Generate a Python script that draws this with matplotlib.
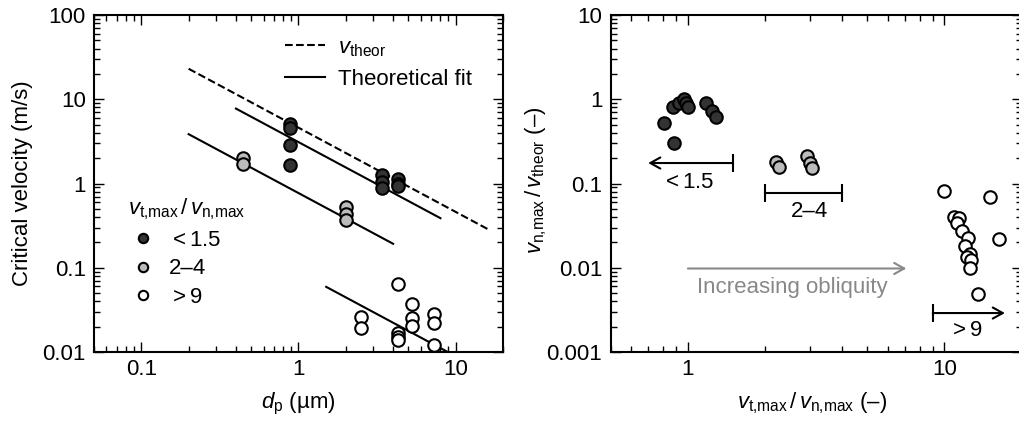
import numpy as np
import matplotlib
matplotlib.use('Agg')
import matplotlib.pyplot as plt
from matplotlib.ticker import FuncFormatter, NullFormatter, LogLocator

plt.rcParams['font.family'] = ['Liberation Sans', 'DejaVu Sans']
plt.rcParams['font.size'] = 16
plt.rcParams['mathtext.fontset'] = 'custom'
plt.rcParams['mathtext.rm'] = 'Liberation Sans'
plt.rcParams['mathtext.it'] = 'Liberation Sans:italic'
plt.rcParams['mathtext.bf'] = 'Liberation Sans:bold'

# left panel: critical velocity vs particle diameter ==================
dp_dark = [0.88, 0.88, 0.88, 0.88, 3.4, 3.4, 3.4, 4.27, 4.27, 4.27]
v_dark = [5.1, 4.5, 2.9, 1.65, 1.26, 1.05, 0.88, 1.12, 1.0, 0.93]
dp_gray = [0.445, 0.445, 2.0, 2.0, 2.0]
v_gray = [2.0, 1.7, 0.53, 0.43, 0.37]
dp_white = [2.5, 2.5, 4.27, 4.27, 4.27, 4.27, 5.28, 5.28, 5.28, 7.32, 7.32, 7.32]
v_white = [0.0262, 0.0191, 0.064, 0.0166, 0.0152, 0.0139,
           0.0368, 0.0251, 0.0204, 0.0282, 0.0219, 0.0121]

# v = c / dp lines (coefficient, dp range)
theor_coef, theor_range = 4.6, (0.2, 16)
fit_coefs = [3.1, 0.77, 0.089]
fit_ranges = [(0.4, 8.0), (0.2, 4.0), (1.5, 10.0)]

# right panel: normalised velocity vs obliquity ========================
ratio_dark = [0.805, 0.88, 0.873, 0.92, 0.964, 0.98, 1.0, 1.18, 1.246, 1.285]
norm_dark = [0.52, 0.30, 0.82, 0.91, 1.0, 0.895, 0.80, 0.91, 0.73, 0.61]
ratio_gray = [2.21, 2.26, 2.90, 2.99, 3.05]
norm_gray = [0.18, 0.155, 0.21, 0.174, 0.151]
ratio_white = [10.0, 15.1, 10.9, 11.35, 11.2, 11.7, 12.35, 12.0, 12.6,
               12.2, 12.7, 12.6, 16.3, 13.5]
norm_white = [0.0815, 0.0686, 0.0397, 0.0386, 0.0337, 0.0275, 0.0224,
              0.0181, 0.0146, 0.0135, 0.0124, 0.0100, 0.0219, 0.0049]

group_labels = [r'$<1.5$', '2–4', r'$>9$']
colors = ['#333333', '#bbbbbb', 'white']


def style_axis(ax):
    ax.set_xscale('log')
    ax.set_yscale('log')
    fmt = FuncFormatter(lambda v, p: '{:g}'.format(v))
    ax.xaxis.set_major_formatter(fmt)
    ax.yaxis.set_major_formatter(fmt)
    ax.xaxis.set_minor_formatter(NullFormatter())
    ax.yaxis.set_minor_formatter(NullFormatter())
    ax.yaxis.set_major_locator(LogLocator(base=10, numticks=20))
    ax.yaxis.set_minor_locator(LogLocator(base=10, subs=np.arange(2, 10), numticks=20))
    ax.tick_params(which='both', direction='in', top=True, right=True, width=1)
    ax.tick_params(which='major', length=7)
    ax.tick_params(which='minor', length=4.5)
    ax.tick_params(axis='x', which='major', pad=5)
    ax.tick_params(axis='y', which='major', pad=6)
    for s in ax.spines.values():
        s.set_linewidth(1.5)


fig = plt.figure(figsize=(10.2, 4.24), dpi=100)
ax1 = fig.add_axes([94 / 1020, 72 / 424, 409 / 1020, 337 / 424])
ax2 = fig.add_axes([610.7 / 1020, 72 / 424, 411 / 1020, 337 / 424])

mk = dict(marker='o', linestyle='none', markersize=9, markeredgecolor='black',
          markeredgewidth=1.5, zorder=3)

# ---- left
d = np.array(theor_range)
l_theor, = ax1.plot(d, theor_coef / d, 'k--', lw=1.5)
for c, (a, b) in zip(fit_coefs, fit_ranges):
    d = np.array([a, b])
    l_fit, = ax1.plot(d, c / d, 'k-', lw=1.5)

pts = []
for xs, ys, col in zip([dp_dark, dp_gray, dp_white], [v_dark, v_gray, v_white], colors):
    p, = ax1.plot(xs, ys, markerfacecolor=col, **mk)
    pts.append(p)

style_axis(ax1)
ax1.set_xlim(0.05, 20)
ax1.set_ylim(0.01, 100)
ax1.set_xlabel(r'$d_{\mathrm{p}}$ (µm)')
ax1.set_ylabel('Critical velocity (m/s)')
ax1.xaxis.set_label_coords(0.5, -0.115)
ax1.yaxis.set_label_coords(-0.15, 0.5)

leg1 = ax1.legend([l_theor, l_fit], [r'$v_{\mathrm{theor}}$', 'Theoretical fit'],
                  loc='upper left', bbox_to_anchor=(0.467, 0.935), frameon=False,
                  borderpad=0, borderaxespad=0, handlelength=1.8, handletextpad=0.6,
                  labelspacing=0.45)
ax1.add_artist(leg1)
leg2 = ax1.legend(pts, group_labels, loc='upper left', bbox_to_anchor=(0.083, 0.462),
                  frameon=False, borderpad=0, borderaxespad=0, handlelength=1.35,
                  handletextpad=0.5, labelspacing=0.35, markerscale=0.75,
                  title=r'$v_{\mathrm{t{,}max}}\,/\,v_{\mathrm{n{,}max}}$',
                  title_fontsize=16, alignment='left')

# ---- right
for xs, ys, col in zip([ratio_dark, ratio_gray, ratio_white],
                       [norm_dark, norm_gray, norm_white], colors):
    ax2.plot(xs, ys, markerfacecolor=col, **mk)

style_axis(ax2)
ax2.set_xlim(0.5, 20)
ax2.set_ylim(0.001, 10)
ax2.set_xlabel(r'$v_{\mathrm{t{,}max}}\,/\,v_{\mathrm{n{,}max}}$ (–)')
ax2.set_ylabel(r'$v_{\mathrm{n{,}max}}\,/\,v_{\mathrm{theor}}$ (–)')
ax2.xaxis.set_label_coords(0.49, -0.115)
ax2.yaxis.set_label_coords(-0.15, 0.51)

arr = dict(arrowstyle='->,head_length=0.45,head_width=0.25', lw=1.5, color='black',
           shrinkA=0, shrinkB=0)
cap = dict(marker='|', markersize=13, markeredgewidth=1.5, color='black', linestyle='none')

# < 1.5
ax2.annotate('', xy=(0.70, 0.175), xytext=(1.5, 0.175), arrowprops=arr)
ax2.plot([1.5], [0.175], **cap)
ax2.text(1.0, 0.104, group_labels[0], ha='center', va='center')
# 2-4
ax2.plot([2, 4], [0.078, 0.078], color='black', lw=1.5)
ax2.plot([2, 4], [0.078, 0.078], **cap)
ax2.text(2.99, 0.046, group_labels[1], ha='center', va='center')
# > 9
ax2.annotate('', xy=(17.2, 0.0029), xytext=(9, 0.0029), arrowprops=arr)
ax2.plot([9], [0.0029], **cap)
ax2.text(12.1, 0.00178, group_labels[2], ha='center', va='center')
# obliquity arrow
ax2.annotate('', xy=(7.1, 0.0098), xytext=(1.0, 0.0098),
             arrowprops=dict(arr, color='#888888'))
ax2.text(2.55, 0.0059, 'Increasing obliquity', color='#888888', ha='center', va='center')

fig.savefig('out.png', dpi=100)
